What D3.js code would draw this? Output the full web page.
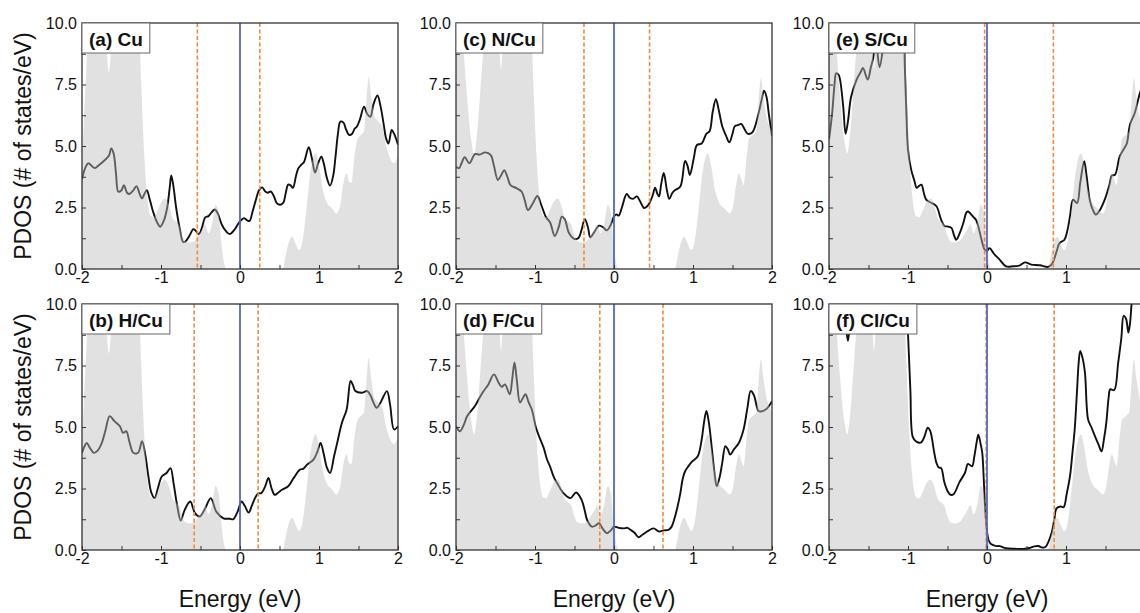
<!DOCTYPE html>
<html>
<head>
<meta charset="utf-8">
<script src="https://cdn.jsdelivr.net/npm/d3@7/dist/d3.min.js"></script>
<style>
  body { margin: 0; background: #fff; }
  svg { display: block; font-family: Arial, "Liberation Sans", sans-serif; }
</style>
</head>
<body>
<div id="chart"></div>
<script>
// panel titles, in (a)..(f) order
var panelLabels = ['(a) Cu', '(b) H/Cu', '(c) N/Cu', '(d) F/Cu', '(e) S/Cu', '(f) Cl/Cu'];
var xTicks = [-2, -1, 0, 1, 2];
var yTicks = [0, 2.5, 5, 7.5, 10];

// grey reference Cu PDOS [energy, states/eV], as aligned in (a),(b)
var greyRefAB = [[-2.00,4.2],[-1.97,6.5],[-1.93,9.0],[-1.89,10.8],[-1.72,10.8],[-1.69,9.0],[-1.66,8.0],[-1.63,9.0],[-1.60,10.8],
  [-1.29,10.8],[-1.25,7.5],[-1.21,4.5],[-1.17,2.8],[-1.13,2.15],[-1.09,2.1],[-1.04,2.4],[-0.99,2.75],[-0.95,2.87],[-0.90,2.6],
  [-0.85,2.05],[-0.80,1.9],[-0.77,1.8],[-0.73,1.35],[-0.69,1.12],[-0.63,1.08],[-0.57,1.15],[-0.52,1.4],[-0.48,1.6],[-0.44,1.82],
  [-0.40,1.45],[-0.35,1.9],[-0.31,2.6],[-0.27,2.3],[-0.24,1.2],[-0.20,0.2],[-0.18,0],[0.54,0],[0.57,0.4],[0.61,1.0],[0.66,1.31],
  [0.70,1.05],[0.75,0.77],[0.79,1.1],[0.84,2.4],[0.89,3.9],[0.93,4.55],[0.96,4.7],[1.00,4.2],[1.05,3.2],[1.10,2.7],[1.17,2.45],
  [1.22,2.26],[1.27,2.6],[1.31,3.5],[1.35,3.88],[1.38,3.55],[1.41,3.5],[1.45,4.6],[1.49,5.3],[1.53,5.45],[1.57,5.6],[1.60,6.8],
  [1.63,7.8],[1.66,7.0],[1.70,6.2],[1.75,6.0],[1.80,5.8],[1.85,5.0],[1.90,4.5],[1.95,4.3],[2.00,4.6]];

// grey reference Cu PDOS as aligned in (c)..(f)
var greyRefCF = [[-2.00,10.8],[-1.94,10.8],[-1.91,9.2],[-1.86,7.0],[-1.81,5.3],[-1.77,4.7],[-1.73,5.6],[-1.68,7.8],[-1.63,9.8],
  [-1.60,10.8],[-1.48,10.8],[-1.45,9.0],[-1.43,8.1],[-1.41,9.0],[-1.38,10.8],[-1.06,10.8],[-1.02,7.5],[-0.98,4.5],[-0.94,2.8],
  [-0.90,2.15],[-0.86,2.1],[-0.81,2.4],[-0.76,2.75],[-0.71,2.87],[-0.67,2.6],[-0.62,2.05],[-0.57,1.9],[-0.54,1.8],[-0.50,1.35],
  [-0.46,1.12],[-0.40,1.08],[-0.34,1.15],[-0.29,1.4],[-0.25,1.6],[-0.21,1.82],[-0.17,1.45],[-0.12,1.9],[-0.08,2.6],[-0.04,2.3],
  [-0.01,1.2],[0.03,0.2],[0.05,0],[0.77,0],[0.80,0.4],[0.84,1.0],[0.89,1.31],[0.93,1.05],[0.98,0.77],[1.02,1.1],[1.07,2.4],
  [1.12,3.9],[1.16,4.55],[1.19,4.7],[1.23,4.2],[1.28,3.2],[1.33,2.7],[1.40,2.45],[1.47,2.26],[1.51,2.6],[1.55,3.5],[1.58,3.88],
  [1.62,3.55],[1.64,3.4],[1.68,4.6],[1.71,5.3],[1.76,5.45],[1.80,5.6],[1.83,6.8],[1.86,7.75],[1.89,7.0],[1.93,6.2],[1.97,5.8],[2.00,5.6]];

// black PDOS curves
var pdosCu = [[-2.00,3.65],[-1.96,4.1],[-1.92,4.3],[-1.88,4.2],[-1.84,4.1],[-1.78,4.24],[-1.72,4.4],[-1.66,4.6],[-1.63,4.9],
  [-1.60,4.7],[-1.57,3.9],[-1.54,3.14],[-1.50,3.2],[-1.47,3.41],[-1.43,3.1],[-1.40,3.05],[-1.35,3.2],[-1.31,3.37],[-1.27,3.05],
  [-1.24,2.87],[-1.21,3.05],[-1.18,3.2],[-1.14,2.8],[-1.10,2.33],[-1.05,1.9],[-1.01,1.72],[-0.96,2.0],[-0.92,2.53],[-0.89,3.3],
  [-0.87,3.8],[-0.84,3.3],[-0.81,2.53],[-0.76,1.6],[-0.72,1.1],[-0.69,1.12],[-0.64,1.35],[-0.59,1.62],[-0.56,1.55],[-0.52,1.42],
  [-0.48,1.7],[-0.44,2.1],[-0.40,2.15],[-0.36,2.3],[-0.32,2.42],[-0.28,2.25],[-0.23,1.8],[-0.18,1.55],[-0.13,1.42],[-0.07,1.6],
  [-0.02,1.85],[0.02,2.0],[0.05,2.07],[0.09,1.98],[0.12,1.95],[0.16,2.35],[0.20,2.8],[0.24,3.2],[0.28,3.32],[0.32,3.15],
  [0.35,3.1],[0.39,3.15],[0.43,2.95],[0.47,2.66],[0.52,2.62],[0.55,2.7],[0.58,3.1],[0.61,3.43],[0.64,3.4],[0.67,3.3],[0.71,3.8],
  [0.74,4.1],[0.78,4.25],[0.81,4.35],[0.87,4.95],[0.91,4.5],[0.95,3.92],[0.99,4.3],[1.03,4.57],[1.06,4.3],[1.10,3.7],[1.14,3.39],
  [1.18,3.8],[1.21,4.6],[1.24,5.5],[1.27,5.99],[1.31,5.95],[1.34,5.7],[1.38,5.45],[1.42,5.5],[1.45,5.7],[1.48,5.79],[1.52,6.1],
  [1.57,6.6],[1.61,6.3],[1.65,6.19],[1.69,6.7],[1.74,7.05],[1.78,6.6],[1.82,5.86],[1.85,5.3],[1.88,5.1],[1.92,5.65],[1.95,5.5],[2.00,5.05]];

var pdosHCu = [[-2.00,3.95],[-1.97,4.2],[-1.94,4.35],[-1.90,4.15],[-1.85,3.95],[-1.80,4.05],[-1.75,4.35],[-1.70,4.9],[-1.65,5.44],
  [-1.59,5.24],[-1.52,5.03],[-1.48,4.76],[-1.44,4.83],[-1.40,4.4],[-1.35,3.95],[-1.29,3.95],[-1.24,4.42],[-1.20,3.9],[-1.16,3.0],
  [-1.12,2.31],[-1.08,2.11],[-1.04,2.5],[-0.99,2.99],[-0.93,3.13],[-0.88,3.33],[-0.84,2.7],[-0.80,1.9],[-0.75,1.2],[-0.70,1.63],
  [-0.63,1.97],[-0.57,1.5],[-0.51,1.36],[-0.44,1.7],[-0.37,2.11],[-0.30,1.56],[-0.21,1.29],[-0.13,1.27],[-0.085,1.25],[-0.03,1.56],
  [0.02,1.97],[0.06,1.8],[0.11,1.52],[0.15,1.8],[0.19,2.11],[0.23,2.3],[0.27,2.31],[0.32,2.6],[0.36,2.93],[0.40,2.5],[0.44,2.24],
  [0.49,2.35],[0.53,2.45],[0.61,2.59],[0.68,2.93],[0.76,3.27],[0.80,3.3],[0.85,3.47],[0.93,3.67],[0.98,4.0],[1.02,4.35],[1.06,3.9],
  [1.10,3.35],[1.14,3.13],[1.19,3.8],[1.23,4.35],[1.29,5.17],[1.35,5.71],[1.40,6.87],[1.43,6.7],[1.46,6.46],[1.54,6.39],[1.61,6.46],
  [1.65,6.3],[1.69,5.99],[1.73,5.78],[1.78,6.0],[1.86,6.46],[1.90,5.9],[1.95,4.9],[2.00,5.03]];

var pdosNCu = [[-2.00,4.16],[-1.96,4.1],[-1.93,4.3],[-1.89,4.54],[-1.83,4.3],[-1.76,4.67],[-1.70,4.65],[-1.63,4.74],[-1.56,4.63],
  [-1.52,4.2],[-1.47,3.62],[-1.43,3.8],[-1.39,4.02],[-1.35,3.75],[-1.31,3.41],[-1.23,3.28],[-1.17,3.15],[-1.13,2.8],[-1.09,2.4],
  [-1.03,2.65],[-0.97,2.97],[-0.92,2.6],[-0.86,2.1],[-0.81,1.9],[-0.75,1.34],[-0.70,1.7],[-0.66,2.13],[-0.62,2.0],[-0.57,1.46],
  [-0.50,1.22],[-0.45,1.26],[-0.41,1.6],[-0.37,2.03],[-0.33,1.7],[-0.30,1.29],[-0.25,1.5],[-0.19,1.76],[-0.14,1.7],[-0.09,1.57],
  [-0.04,1.8],[0.00,2.14],[0.03,2.22],[0.06,2.17],[0.10,2.5],[0.16,3.05],[0.20,2.9],[0.24,2.85],[0.29,2.95],[0.33,2.75],[0.38,2.48],
  [0.42,2.55],[0.45,2.68],[0.49,3.0],[0.52,3.3],[0.55,3.05],[0.57,2.95],[0.60,3.5],[0.63,3.9],[0.67,3.2],[0.70,2.85],[0.74,3.1],
  [0.78,3.22],[0.84,3.35],[0.90,4.39],[0.93,4.2],[0.96,3.82],[1.01,4.5],[1.05,5.04],[1.11,5.1],[1.17,5.5],[1.21,5.6],[1.25,6.4],
  [1.29,6.9],[1.33,6.4],[1.37,5.8],[1.42,5.4],[1.46,5.15],[1.50,5.5],[1.53,5.81],[1.57,5.85],[1.61,5.9],[1.65,5.7],[1.69,5.5],
  [1.75,5.55],[1.83,6.33],[1.87,6.9],[1.90,7.25],[1.93,7.0],[1.96,6.3],[2.00,5.4]];

var pdosFCu = [[-2.00,5.03],[-1.95,4.83],[-1.90,5.1],[-1.86,5.44],[-1.76,5.85],[-1.70,6.2],[-1.65,6.46],[-1.59,6.73],[-1.52,7.14],
  [-1.46,6.8],[-1.42,6.63],[-1.38,6.73],[-1.32,6.33],[-1.29,6.9],[-1.26,7.62],[-1.23,6.9],[-1.19,5.99],[-1.15,6.2],[-1.12,6.33],
  [-1.08,6.0],[-1.04,5.71],[-0.99,5.0],[-0.95,4.63],[-0.89,4.15],[-0.85,3.7],[-0.81,3.4],[-0.76,2.95],[-0.72,2.72],[-0.64,2.31],
  [-0.55,2.11],[-0.48,2.34],[-0.41,2.04],[-0.37,1.6],[-0.34,1.22],[-0.28,0.95],[-0.23,1.0],[-0.19,1.09],[-0.14,0.85],[-0.09,0.68],
  [-0.04,0.8],[0.00,0.95],[0.06,0.9],[0.12,0.88],[0.17,0.9],[0.21,0.82],[0.26,0.7],[0.31,0.52],[0.36,0.62],[0.42,0.75],[0.50,0.88],
  [0.57,0.75],[0.63,0.8],[0.69,0.82],[0.73,0.95],[0.76,1.22],[0.80,1.7],[0.84,2.31],[0.87,2.9],[0.90,3.2],[0.94,3.4],[0.99,3.6],
  [1.06,3.81],[1.11,4.49],[1.14,5.2],[1.17,5.65],[1.20,5.2],[1.24,4.08],[1.27,3.2],[1.30,2.59],[1.34,3.0],[1.37,3.54],[1.41,4.22],
  [1.44,4.1],[1.47,3.88],[1.52,4.1],[1.58,4.35],[1.64,4.9],[1.69,5.8],[1.73,6.46],[1.77,6.3],[1.81,5.8],[1.83,5.65],[1.92,5.71],[2.00,6.05]];

var pdosSCu = [[-2.00,5.26],[-1.96,6.34],[-1.93,7.5],[-1.91,7.95],[-1.88,7.9],[-1.86,7.7],[-1.82,6.6],[-1.79,5.5],[-1.76,6.0],
  [-1.72,7.0],[-1.65,7.7],[-1.60,8.0],[-1.57,8.17],[-1.51,7.7],[-1.47,8.2],[-1.44,8.58],[-1.41,9.5],[-1.39,8.9],[-1.36,8.2],
  [-1.32,8.9],[-1.28,10.5],[-1.10,10.8],[-1.06,10.3],[-1.04,8.2],[-1.02,6.3],[-1.00,4.85],[-0.96,4.04],[-0.92,3.6],[-0.89,3.3],
  [-0.86,3.38],[-0.83,3.43],[-0.80,3.1],[-0.77,2.82],[-0.70,2.68],[-0.64,2.55],[-0.58,2.0],[-0.54,1.75],[-0.51,1.73],[-0.45,1.67],
  [-0.42,1.4],[-0.39,1.19],[-0.34,1.5],[-0.30,1.87],[-0.26,2.3],[-0.24,2.34],[-0.18,2.14],[-0.14,2.0],[-0.11,1.73],[-0.07,1.2],
  [-0.03,0.79],[0.00,0.72],[0.025,0.85],[0.05,0.8],[0.08,0.65],[0.16,0.38],[0.24,0.11],[0.33,0.11],[0.41,0.14],[0.48,0.27],
  [0.56,0.18],[0.67,0.15],[0.77,0.08],[0.81,0.15],[0.84,0.31],[0.88,0.7],[0.92,1.06],[0.98,1.19],[1.02,1.6],[1.05,2.14],[1.09,2.82],
  [1.14,2.68],[1.18,3.5],[1.23,4.38],[1.26,3.8],[1.30,2.82],[1.34,2.4],[1.38,2.21],[1.43,2.4],[1.49,2.82],[1.55,3.43],[1.58,3.8],
  [1.62,3.83],[1.68,4.58],[1.74,4.92],[1.77,5.1],[1.81,5.87],[1.87,6.34],[1.93,7.09],[2.00,7.8]];

var pdosClCu = [[-2.00,10.8],[-1.82,10.5],[-1.79,9.2],[-1.76,8.5],[-1.73,9.5],[-1.70,10.8],[-1.03,10.8],[-1.00,8.8],[-0.97,6.5],
  [-0.94,4.6],[-0.90,4.42],[-0.86,4.36],[-0.83,4.38],[-0.79,4.63],[-0.75,4.97],[-0.72,4.85],[-0.70,4.6],[-0.67,4.0],[-0.64,3.54],
  [-0.61,3.35],[-0.58,3.33],[-0.54,2.75],[-0.50,2.4],[-0.46,2.24],[-0.42,2.28],[-0.35,2.75],[-0.28,3.13],[-0.24,3.5],[-0.19,3.4],
  [-0.16,3.81],[-0.13,4.4],[-0.11,4.69],[-0.08,4.3],[-0.06,3.95],[-0.04,2.8],[-0.02,1.5],[0.00,0.75],[0.02,0.4],[0.05,0.24],
  [0.12,0.16],[0.16,0.16],[0.24,0.07],[0.35,0.05],[0.46,0.04],[0.54,0.08],[0.60,0.15],[0.65,0.16],[0.70,0.1],[0.74,0.12],[0.78,0.35],
  [0.82,0.72],[0.85,1.2],[0.88,1.69],[0.93,1.77],[0.97,1.74],[1.01,2.3],[1.05,2.99],[1.08,3.9],[1.11,4.9],[1.14,6.5],[1.16,7.6],
  [1.18,8.09],[1.21,7.8],[1.24,7.2],[1.28,5.3],[1.32,5.0],[1.37,4.6],[1.41,4.3],[1.45,4.01],[1.48,4.5],[1.51,5.17],[1.54,6.2],
  [1.56,6.53],[1.61,6.5],[1.66,7.6],[1.70,8.6],[1.73,9.52],[1.76,9.4],[1.79,8.84],[1.81,9.2],[1.83,10.0],[1.86,11.0],[2.00,11.5]];

// orange dashed marker energies per panel
var bandEdges = [[-0.54, 0.25], [-0.58, 0.23], [-0.38, 0.45], [-0.18, 0.62], [-0.03, 0.84], [-0.01, 0.85]];

var curves = [pdosCu, pdosHCu, pdosNCu, pdosFCu, pdosSCu, pdosClCu];
var greys = [greyRefAB, greyRefAB, greyRefCF, greyRefCF, greyRefCF, greyRefCF];

var width = 1140, height = 613;
var colLeft = [82, 456, 829];
var rowTop = [23, 304];
var pw = 316, ph = 246;

var svg = d3.select('#chart').append('svg')
  .attr('width', width)
  .attr('height', height);

var x = d3.scaleLinear().domain([-2, 2]).range([0, pw]);
var y = d3.scaleLinear().domain([0, 10]).range([ph, 0]);

var line = d3.line()
  .x(function(d){ return x(d[0]); })
  .y(function(d){ return y(d[1]); })
  .curve(d3.curveCatmullRom.alpha(0.5));

var area = d3.area()
  .x(function(d){ return x(d[0]); })
  .y0(y(0))
  .y1(function(d){ return y(d[1]); })
  .curve(d3.curveMonotoneX);

panelLabels.forEach(function(label, i){
  var col = Math.floor(i / 2), row = i % 2;
  var left = colLeft[col];
  var g = svg.append('g')
    .attr('transform', 'translate(' + left + ',' + rowTop[row] + ')');

  g.append('clipPath').attr('id', 'clip' + i)
    .append('rect').attr('width', pw).attr('height', ph);
  var plot = g.append('g').attr('clip-path', 'url(#clip' + i + ')');

  // black curve first, grey reference laid over it
  plot.append('path').datum(curves[i])
    .attr('d', line)
    .attr('fill', 'none')
    .attr('stroke', '#111')
    .attr('stroke-width', 1.9);

  plot.append('path').datum(greys[i])
    .attr('d', area)
    .attr('fill', '#bdbdbd')
    .attr('fill-opacity', 0.45);

  // dashed orange markers
  plot.selectAll('line.edge').data(bandEdges[i]).enter()
    .append('line').attr('class', 'edge')
    .attr('x1', function(d){ return x(d); })
    .attr('x2', function(d){ return x(d); })
    .attr('y1', 0).attr('y2', ph)
    .attr('stroke', '#f5883a')
    .attr('stroke-width', 1.6)
    .attr('stroke-dasharray', '4,2.5');

  // fermi level
  plot.append('line')
    .attr('x1', x(0)).attr('x2', x(0))
    .attr('y1', 0).attr('y2', ph)
    .attr('stroke', '#5468c6')
    .attr('stroke-width', 1.8);

  // axes, ticks pointing inward; labels past the page edge are skipped
  var xAxis = d3.axisBottom(x)
    .tickValues(d3.range(-2, 2.01, 0.5))
    .tickFormat(function(d){
      return (xTicks.indexOf(d) >= 0 && left + x(d) + 6 < width) ? d : '';
    })
    .tickSizeInner(-4).tickSizeOuter(0).tickPadding(3);
  var yAxis = d3.axisLeft(y)
    .tickValues(d3.range(0, 10.01, 1.25))
    .tickFormat(function(d){ return yTicks.indexOf(d) >= 0 ? d3.format('.1f')(d) : ''; })
    .tickSizeInner(-4).tickSizeOuter(0).tickPadding(5);

  var gx = g.append('g').attr('transform', 'translate(0,' + ph + ')').call(xAxis);
  var gy = g.append('g').call(yAxis);
  [gx, gy].forEach(function(a){
    a.select('.domain').remove();
    a.selectAll('line').attr('stroke', '#333');
    a.selectAll('text').attr('font-size', 16).attr('fill', '#111')
      .attr('font-family', 'Arial, "Liberation Sans", sans-serif');
  });

  g.append('rect')
    .attr('width', pw).attr('height', ph)
    .attr('fill', 'none')
    .attr('stroke', '#333')
    .attr('stroke-width', 1.3);

  // label box in the corner
  var box = g.append('rect')
    .attr('x', 0).attr('y', 0).attr('height', 30)
    .attr('fill', '#fff')
    .attr('stroke', '#666')
    .attr('stroke-width', 1);
  var t = g.append('text')
    .attr('x', 7).attr('y', 23)
    .attr('font-size', 19)
    .attr('font-weight', 'bold')
    .attr('fill', '#111')
    .text(label);
  box.attr('width', t.node().getComputedTextLength() + 14);
});

// y titles on the left
rowTop.forEach(function(top){
  svg.append('text')
    .attr('transform', 'translate(23,' + (top + ph / 2) + ') rotate(-90)')
    .attr('text-anchor', 'middle')
    .attr('dy', '0.35em')
    .attr('font-size', 23)
    .attr('fill', '#111')
    .text('PDOS (# of states/eV)');
});

// x titles under bottom row
colLeft.forEach(function(left){
  svg.append('text')
    .attr('x', left + pw / 2)
    .attr('y', 607)
    .attr('text-anchor', 'middle')
    .attr('font-size', 23)
    .attr('fill', '#111')
    .text('Energy (eV)');
});
</script>
</body>
</html>
